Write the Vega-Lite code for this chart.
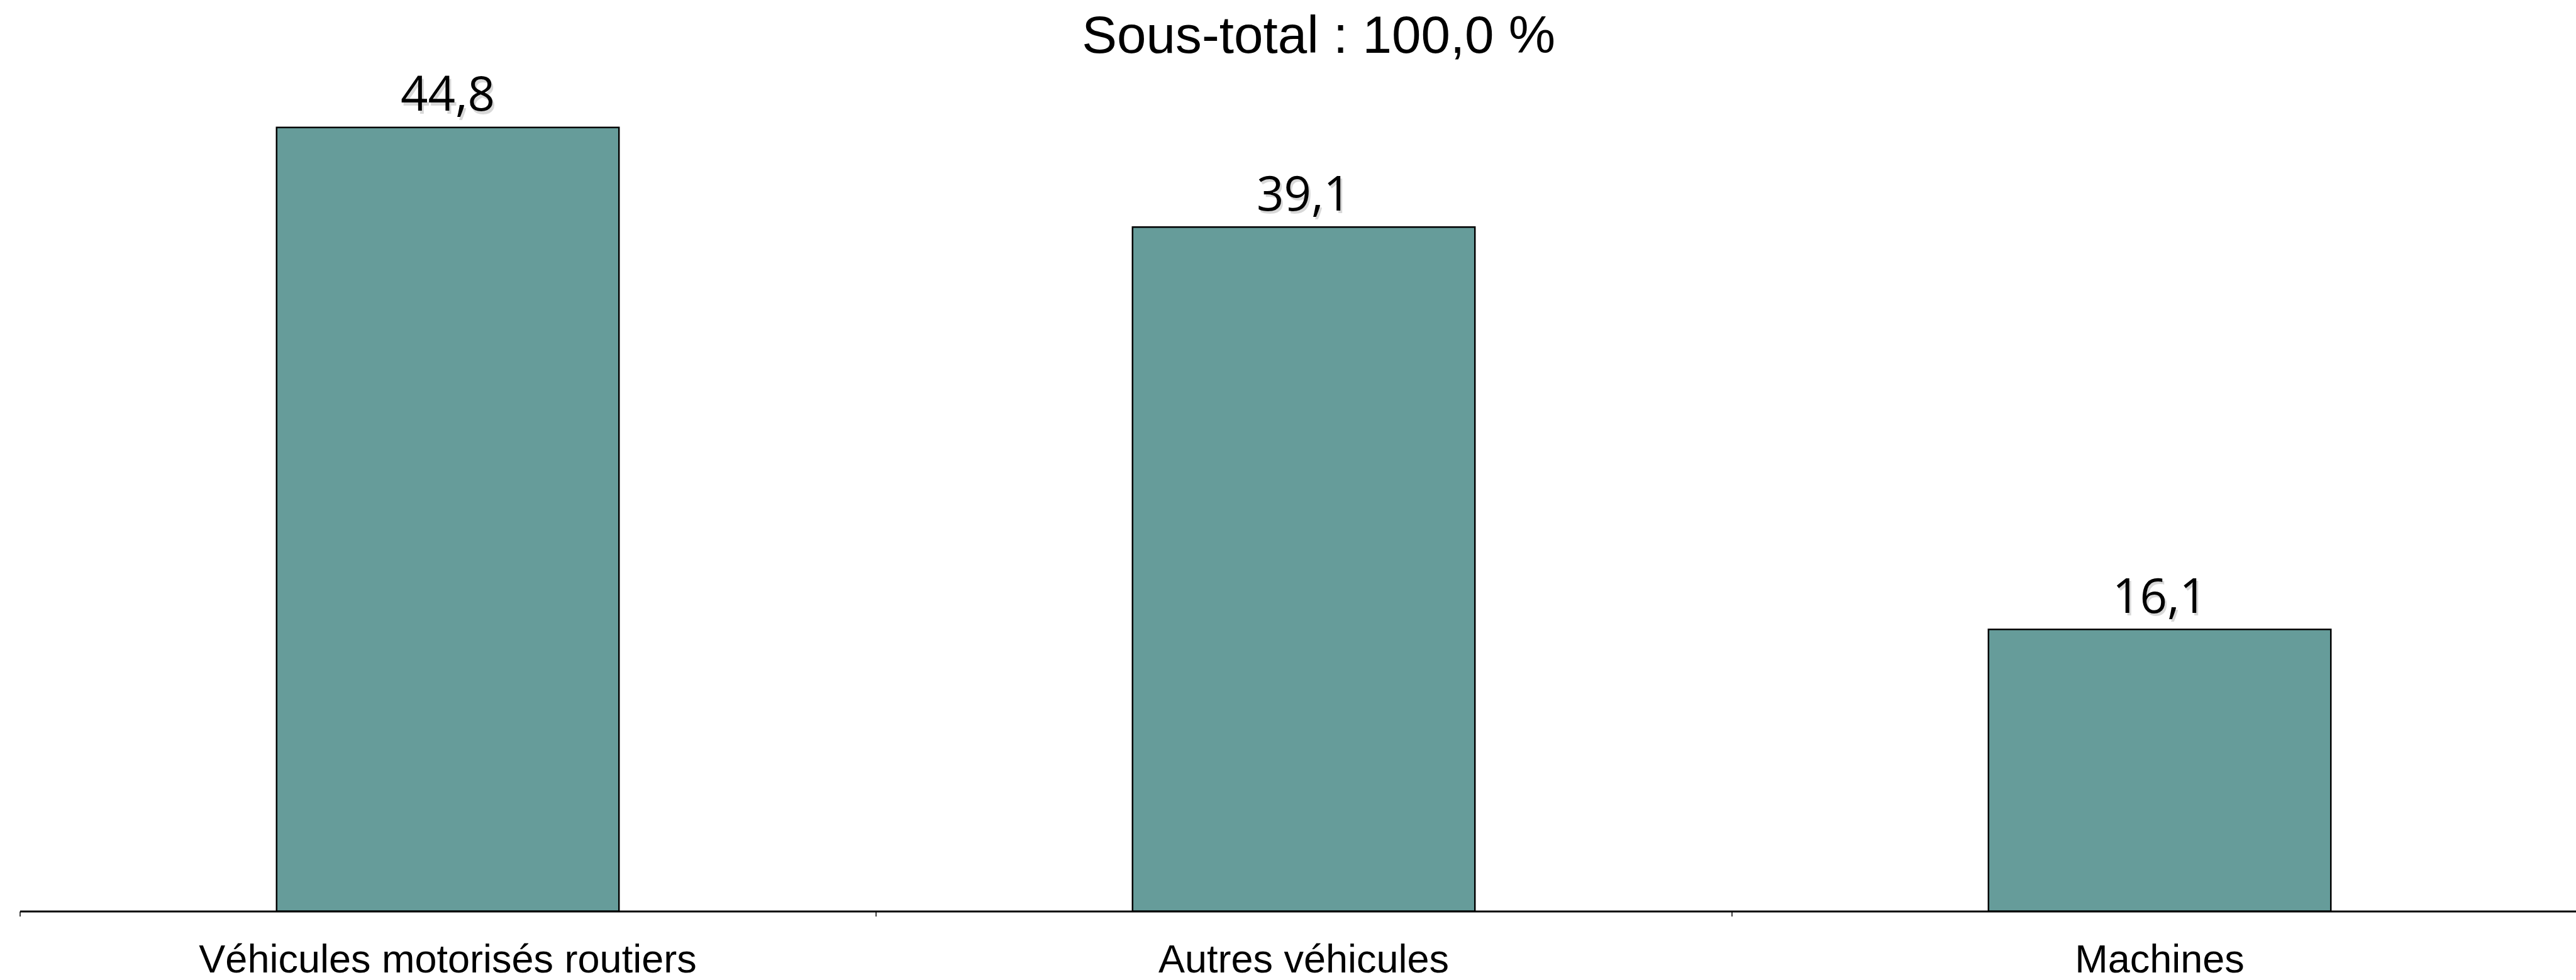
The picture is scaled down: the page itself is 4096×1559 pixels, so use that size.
{
  "$schema": "https://vega.github.io/schema/vega-lite/v6.json",
  "autosize": {"type": "none"},
  "width": 4064.5,
  "height": 1335.8,
  "padding": {"left": 31.5, "top": 113.6, "right": 0, "bottom": 109.6},
  "background": "#ffffff",
  "config": {
    "view": {"stroke": null},
    "locale": {"number": {"decimal": ",", "thousands": " ", "grouping": [3], "currency": ["", " €"]}}
  },
  "title": {
    "text": "Sous-total : 100,0 %",
    "font": "Liberation Sans",
    "fontSize": 83.6,
    "fontWeight": "normal",
    "color": "#000000",
    "anchor": "middle",
    "frame": "group",
    "baseline": "alphabetic",
    "offset": 25,
    "dx": 33,
    "dy": 79
  },
  "data": {
    "values": [
      {"categorie": "Véhicules motorisés routiers", "pourcentage": 44.8},
      {"categorie": "Autres véhicules", "pourcentage": 39.1},
      {"categorie": "Machines", "pourcentage": 16.1}
    ]
  },
  "encoding": {
    "x": {
      "field": "categorie",
      "type": "nominal",
      "sort": null,
      "scale": {"range": [0, 4083], "paddingInner": 0, "paddingOuter": 0},
      "axis": {
        "title": null,
        "grid": false,
        "domainColor": "#000000",
        "domainWidth": 3,
        "ticks": true,
        "tickColor": "#000000",
        "tickWidth": 1.5,
        "tickSize": 8,
        "bandPosition": 0,
        "labelOffset": 0,
        "labelAngle": 0,
        "labelFont": "Liberation Sans",
        "labelFontSize": 63,
        "labelColor": "#000000",
        "labelBaseline": "alphabetic",
        "labelPadding": 89,
        "labelLimit": 0,
        "labelOverlap": false
      }
    },
    "y": {
      "field": "pourcentage",
      "type": "quantitative",
      "scale": {"domain": [0, 48]},
      "axis": null
    }
  },
  "layer": [
    {
      "mark": {"type": "bar", "width": {"band": 0.4}, "fill": "#669c9a", "stroke": "#000000", "strokeWidth": 2.5}
    },
    {
      "mark": {"type": "text", "font": "Open Sans", "fontSize": 76, "baseline": "alphabetic", "align": "center", "dy": -22, "dx": 3, "color": "#000000", "opacity": 0.15},
      "encoding": {"text": {"field": "pourcentage", "type": "quantitative", "format": ".1f"}}
    },
    {
      "mark": {"type": "text", "font": "Open Sans", "fontSize": 76, "baseline": "alphabetic", "align": "center", "dy": -26.6, "color": "#000000"},
      "encoding": {"text": {"field": "pourcentage", "type": "quantitative", "format": ".1f"}}
    }
  ]
}
